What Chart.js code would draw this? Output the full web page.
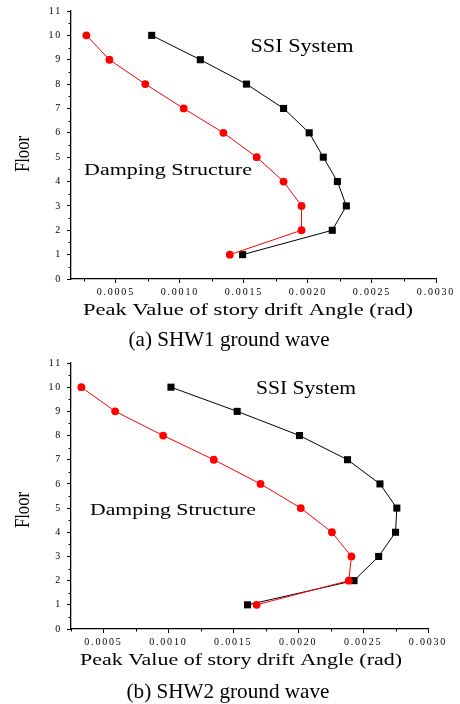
<!DOCTYPE html>
<html>
<head>
<meta charset="utf-8">
<script src="https://cdn.jsdelivr.net/npm/chart.js@4/dist/chart.umd.min.js"></script>
<style>
  html, body { margin: 0; padding: 0; background: #fff; }
  .panel { position: absolute; left: 0; width: 460px; height: 352px; }
  #p1 { top: 0; }
  #p2 { top: 352px; }
</style>
</head>
<body>
<div class="panel" id="p1"><canvas id="c1" width="460" height="352"></canvas></div>
<div class="panel" id="p2"><canvas id="c2" width="460" height="352"></canvas></div>
<script>
// ====== Data ======
const FLOORS = [1, 2, 3, 4, 5, 6, 7, 8, 9, 10];
const Y_TICKS = [0, 1, 2, 3, 4, 5, 6, 7, 8, 9, 10, 11];
const X_TICKS = [0.0005, 0.0010, 0.0015, 0.0020, 0.0025, 0.0030];

// (a) SHW1 ground wave
const DAMPING_1 = [0.00139, 0.00195, 0.00195, 0.00181, 0.00160, 0.00134, 0.00103, 0.00073, 0.00045, 0.00027];
const SSI_1     = [0.00149, 0.00219, 0.00230, 0.00223, 0.00212, 0.00201, 0.00181, 0.00152, 0.00116, 0.00078];

// (b) SHW2 ground wave
const DAMPING_2 = [0.00168, 0.00239, 0.00241, 0.00226, 0.00202, 0.00171, 0.00135, 0.00096, 0.00059, 0.00033];
const SSI_2     = [0.00161, 0.00243, 0.00262, 0.00275, 0.00276, 0.00263, 0.00238, 0.00201, 0.00153, 0.00102];

const SERIF = '"Liberation Serif", "Times New Roman", serif';

// ====== Helpers ======
function points(xs) {
  return xs.map((x, i) => ({ x: x, y: FLOORS[i] }));
}

// draw text stretched/condensed to a given width
function drawFit(ctx, t) {
  ctx.save();
  ctx.letterSpacing = '0px';
  ctx.font = t.size + 'px ' + SERIF;
  const nat = ctx.measureText(t.text).width;
  ctx.translate(t.x, t.y);
  if (t.rot) ctx.rotate(-Math.PI / 2);
  ctx.scale(t.w / nat, 1);
  ctx.fillStyle = '#000';
  ctx.textAlign = 'center';
  ctx.textBaseline = 'middle';
  ctx.fillText(t.text, 0, 0);
  ctx.restore();
}

const textPlugin = {
  id: 'texts',
  beforeDraw(chart) {
    chart.ctx.letterSpacing = '1.8px';
  },
  afterDraw(chart, args, opts) {
    const ctx = chart.ctx;
    const xs = chart.scales.x, ys = chart.scales.y;
    // minor ticks
    ctx.save();
    ctx.strokeStyle = '#000';
    ctx.lineWidth = 1;
    ctx.beginPath();
    for (let v = 0.5; v < 11; v += 1) {
      const py = Math.round(ys.getPixelForValue(v)) + 0.5;
      ctx.moveTo(xs.left - 2.5, py);
      ctx.lineTo(xs.left, py);
    }
    for (let v = 0.00025; v < 0.003; v += 0.0005) {
      if (v < xs.min) continue;
      const px = Math.round(xs.getPixelForValue(v)) + 0.5;
      ctx.moveTo(px, ys.bottom);
      ctx.lineTo(px, ys.bottom + 2.5);
    }
    ctx.stroke();
    ctx.restore();
    opts.items.forEach(t => drawFit(ctx, t));
  }
};

function makeChart(id, damping, ssi, cfg) {
  return new Chart(document.getElementById(id), {
    type: 'scatter',
    data: {
      datasets: [
        {
          label: 'Damping Structure',
          data: points(damping),
          showLine: true,
          borderColor: '#ff0000',
          backgroundColor: '#ff0000',
          borderWidth: 1,
          pointStyle: 'circle',
          pointRadius: 3.9,
          pointBorderWidth: 0
        },
        {
          label: 'SSI System',
          data: points(ssi),
          showLine: true,
          borderColor: '#000000',
          backgroundColor: '#000000',
          borderWidth: 1,
          pointStyle: 'rect',
          pointRadius: 5,
          pointBorderWidth: 0
        }
      ]
    },
    options: {
      responsive: false,
      animation: false,
      layout: { padding: cfg.padding },
      plugins: {
        legend: { display: false },
        tooltip: { enabled: false },
        texts: { items: cfg.texts }
      },
      scales: {
        x: {
          type: 'linear',
          min: cfg.xMin,
          max: 0.003,
          afterBuildTicks: s => { s.ticks = X_TICKS.map(v => ({ value: v })); },
          afterFit: s => { s.height = cfg.xHeight; },
          grid: { drawOnChartArea: false, drawTicks: true, tickLength: 4, color: '#000', tickWidth: 1 },
          border: { display: true, color: '#000', width: 1.3 },
          ticks: {
            color: '#000',
            padding: 3,
            maxRotation: 0,
            autoSkip: false,
            font: { family: SERIF, size: 10 },
            callback: v => v.toFixed(4)
          }
        },
        y: {
          type: 'linear',
          min: 0,
          max: 11,
          afterBuildTicks: s => { s.ticks = Y_TICKS.map(v => ({ value: v })); },
          afterFit: s => { s.width = 71; },
          grid: { drawOnChartArea: false, drawTicks: true, tickLength: 4, color: '#000', tickWidth: 1 },
          border: { display: true, color: '#000', width: 1.3 },
          ticks: {
            color: '#000',
            padding: 5,
            autoSkip: false,
            font: { family: SERIF, size: 10 },
            callback: v => String(v)
          }
        }
      }
    },
    plugins: [textPlugin]
  });
}

// ====== Charts ======
makeChart('c1', DAMPING_1, SSI_1, {
  xMin: 0.00015,
  padding: { left: 0, top: 11, right: 24, bottom: 0 },
  xHeight: 73,
  texts: [
    { text: 'SSI System', x: 302, y: 47, w: 103, size: 18 },
    { text: 'Damping Structure', x: 168, y: 171, w: 168, size: 17 },
    { text: 'Peak Value of story drift Angle (rad)', x: 248, y: 311, w: 330, size: 17 },
    { text: '(a) SHW1 ground wave', x: 229, y: 340, w: 201, size: 22 },
    { text: 'Floor', x: 23, y: 154, w: 36, size: 22, rot: true }
  ]
});

makeChart('c2', DAMPING_2, SSI_2, {
  xMin: 0.00025,
  padding: { left: 0, top: 8, right: 32, bottom: 0 },
  xHeight: 75,
  texts: [
    { text: 'SSI System', x: 306, y: 37, w: 100, size: 18 },
    { text: 'Damping Structure', x: 173, y: 159, w: 166, size: 17 },
    { text: 'Peak Value of story drift Angle (rad)', x: 241, y: 309, w: 322, size: 17 },
    { text: '(b) SHW2 ground wave', x: 228, y: 340, w: 203, size: 22 },
    { text: 'Floor', x: 23, y: 158, w: 36, size: 22, rot: true }
  ]
});
</script>
</body>
</html>
